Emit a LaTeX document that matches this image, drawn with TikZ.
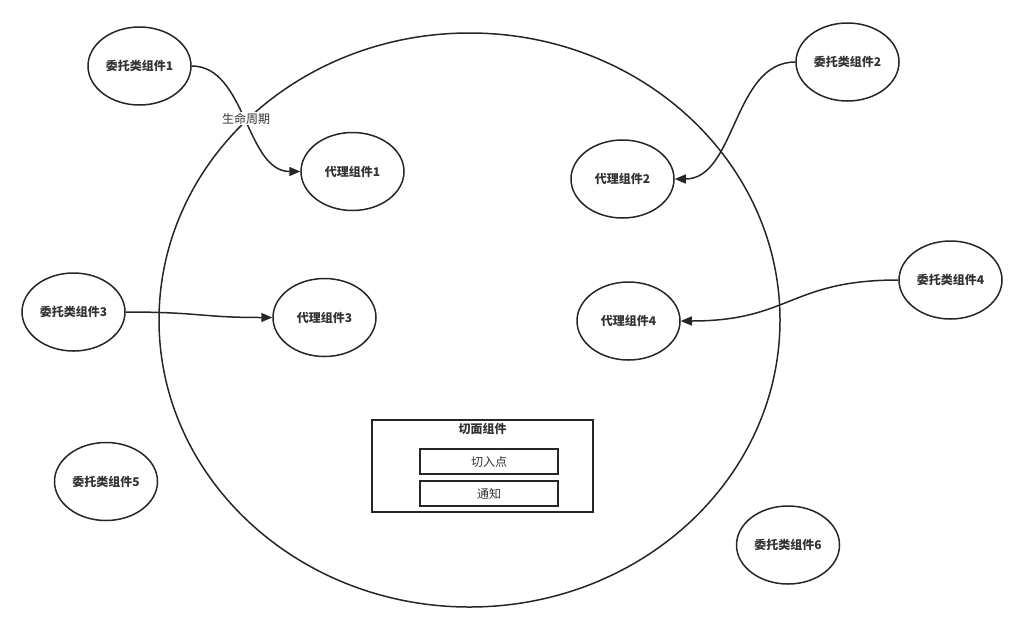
\documentclass[tikz,border=0pt]{standalone}
\usepackage{fontspec}
\setmainfont{Noto Sans CJK SC}
\usetikzlibrary{arrows.meta,shapes.geometric}
\definecolor{ln}{HTML}{262626}
\definecolor{tx}{HTML}{333333}
\begin{document}
\begin{tikzpicture}[x=1pt,y=-1pt,
  comp/.style={ellipse,draw=ln,line width=1.5pt,minimum width=103pt,minimum height=78pt,inner sep=0pt,text=tx,font=\fontsize{12}{14}\selectfont\bfseries},
  conn/.style={draw=ln,line width=1.5pt,-{Triangle[length=11pt,width=9pt]}},
  box/.style={draw=ln,line width=1.5pt,inner sep=0pt},
  lbl/.style={text=tx,font=\fontsize{12}{14}\selectfont}
]
\useasboundingbox (0,0) rectangle (1024,630);
% big circle
\node[draw=ln,line width=1.5pt,ellipse,minimum width=621pt,minimum height=574pt,inner sep=0pt] (big) at (469.5,320) {};
% nodes
\node[comp] (d1) at (139.5,66) {委托类组件1};
\node[comp] (p1) at (352.5,171.5) {代理组件1};
\node[comp] (d2) at (847.5,62) {委托类组件2};
\node[comp] (p2) at (622.5,179) {代理组件2};
\node[comp] (d3) at (73.5,312) {委托类组件3};
\node[comp] (p3) at (324.5,317.5) {代理组件3};
\node[comp] (d4) at (950.5,280) {委托类组件4};
\node[comp] (p4) at (628.5,321) {代理组件4};
\node[comp] (d5) at (106,481.5) {委托类组件5};
\node[comp] (d6) at (788,545) {委托类组件6};
% aspect box
\node[box,minimum width=221pt,minimum height=92pt] (asp) at (482.5,466) {};
\node[lbl,font=\fontsize{12}{14}\selectfont\bfseries] (aspt) at (482.5,429) {切面组件};
\node[box,minimum width=138pt,minimum height=25pt,lbl] (jp) at (489,461.5) {切入点};
\node[box,minimum width=138pt,minimum height=25pt,lbl] (adv) at (489,493.5) {通知};
% connectors
\draw[conn] (d1.east) .. controls (246,66) and (246,171.5) .. node[lbl,fill=white,inner sep=1pt,pos=0.5] (life) {生命周期} (p1.west);
\draw[conn] (d2.west) .. controls (733,62) and (736,179) .. (p2.east);
\draw[conn] (d3.east) .. controls (200,312) and (200,317.5) .. (p3.west);
\draw[conn] (d4.west) .. controls (790,280) and (790,321) .. (p4.east);
\end{tikzpicture}
\end{document}
